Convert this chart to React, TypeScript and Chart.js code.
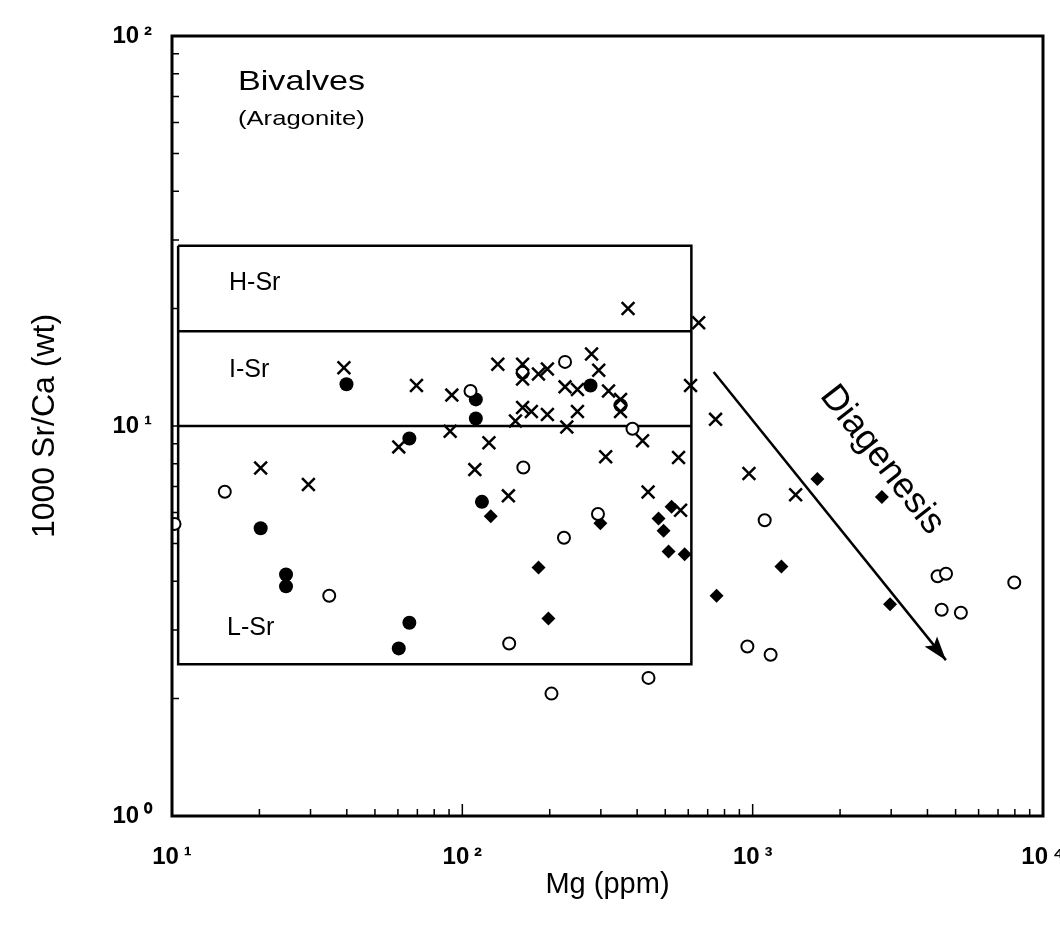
import React, { useEffect, useRef } from 'react';
import { Chart, registerables } from 'chart.js';

Chart.register(...registerables);

// ---- data (Mg ppm, 1000 Sr/Ca) ----
const crossMg = [39.1, 69.5, 92.0, 132.5, 161.3, 161.3, 182.9, 196.3, 225.8, 249.2, 278.7, 295, 318.8, 350.7, 350.7, 611, 372.2, 651.6, 161.3, 172.9, 196.3, 249.2, 152.4, 229, 90.8, 123.5, 60.4, 311.7, 417.6, 555.5, 20.2, 29.5, 110.4, 144.1, 436.3, 564.5, 745, 971, 1406];
const crossSr = [14.1, 12.7, 12.0, 14.4, 14.4, 13.2, 13.6, 14.0, 12.6, 12.4, 15.3, 13.9, 12.3, 11.7, 10.9, 12.7, 20.0, 18.4, 11.15, 10.9, 10.7, 10.9, 10.3, 9.94, 9.69, 9.06, 8.84, 8.34, 9.17, 8.30, 7.80, 7.08, 7.73, 6.62, 6.77, 6.08, 10.4, 7.55, 6.66];

const openMg = [10.2, 15.2, 34.8, 106.7, 161.3, 225.8, 350.7, 385.5, 162.2, 293.2, 223.9, 145, 437.7, 202.8, 1100, 959, 1153, 4335, 4634, 4477, 5214, 7962];
const openSr = [5.61, 6.78, 3.67, 12.3, 13.7, 14.6, 11.3, 9.84, 7.83, 5.95, 5.17, 2.77, 2.26, 2.06, 5.73, 2.72, 2.59, 4.12, 4.18, 3.38, 3.32, 3.97];

const filledMg = [39.9, 111.3, 111.3, 65.7, 276.4, 116.8, 20.2, 24.7, 24.7, 65.7, 60.4];
const filledSr = [12.8, 11.7, 10.45, 9.29, 12.7, 6.39, 5.47, 4.16, 3.88, 3.13, 2.69];

const diamondMg = [125.3, 298.9, 183, 198, 474, 525.7, 493.3, 513.3, 583, 1671, 2786, 1256, 751, 2974];
const diamondSr = [5.87, 5.63, 4.34, 3.21, 5.79, 6.21, 5.39, 4.77, 4.69, 7.31, 6.58, 4.36, 3.67, 3.49];

// Sr fields (box) and diagenesis trend
const boxMg = [10.5, 615];
const boxSr = [2.45, 10, 17.5, 29]; // bottom, L/I, I/H, top
const arrowMg = [734, 4630];
const arrowSr = [13.75, 2.51];

// axes
const xTickValues = [10, 100, 1000, 10000];
const xTickLabels = ['10\u2009\u00B9', '10\u2009\u00B2', '10\u2009\u00B3', '10\u2009\u2074'];
const yTickValues = [1, 10, 100];
const yTickLabels = ['10\u2009\u2070', '10\u2009\u00B9', '10\u2009\u00B2'];

const FONT = '"Liberation Sans", Arial, Helvetica, sans-serif';

const pts = (xs: number[], ys: number[]) => xs.map((x, i) => ({ x, y: ys[i] }));

function stretchedText(ctx: any, text: string, x: number, y: number, size: number, sx: number) {
  ctx.save();
  ctx.translate(x, y);
  ctx.scale(sx, 1);
  ctx.font = `${size}px ${FONT}`;
  ctx.fillText(text, 0, 0);
  ctx.restore();
}

const framePlugin = {
  id: 'frameAndNotes',
  afterDatasetsDraw(chart: any) {
    const { ctx, chartArea: a } = chart;
    const xs = chart.scales.x;
    const ys = chart.scales.y;
    ctx.save();
    // frame
    ctx.strokeStyle = '#000';
    ctx.lineWidth = 3;
    ctx.strokeRect(a.left, a.top, a.right - a.left, a.bottom - a.top);
    // inward ticks
    ctx.lineWidth = 1.5;
    ctx.beginPath();
    [10, 100, 1000].forEach((d) => {
      for (let m = 1; m <= 9; m++) {
        const px = xs.getPixelForValue(d * m);
        const len = m === 1 ? 12 : 7;
        ctx.moveTo(px, a.bottom);
        ctx.lineTo(px, a.bottom - len);
      }
    });
    [1, 10].forEach((d) => {
      for (let m = 1; m <= 9; m++) {
        const py = ys.getPixelForValue(d * m);
        const len = m === 1 ? 12 : 7;
        ctx.moveTo(a.left, py);
        ctx.lineTo(a.left + len, py);
      }
    });
    ctx.stroke();

    // arrow head
    const x0 = xs.getPixelForValue(arrowMg[0]);
    const y0 = ys.getPixelForValue(arrowSr[0]);
    const x1 = xs.getPixelForValue(arrowMg[1]);
    const y1 = ys.getPixelForValue(arrowSr[1]);
    const ang = Math.atan2(y1 - y0, x1 - x0);
    const hl = 24, hw = 8;
    ctx.fillStyle = '#000';
    ctx.beginPath();
    ctx.moveTo(x1, y1);
    ctx.lineTo(x1 - hl * Math.cos(ang) + hw * Math.sin(ang), y1 - hl * Math.sin(ang) - hw * Math.cos(ang));
    ctx.lineTo(x1 - hl * 0.8 * Math.cos(ang), y1 - hl * 0.8 * Math.sin(ang));
    ctx.lineTo(x1 - hl * Math.cos(ang) - hw * Math.sin(ang), y1 - hl * Math.sin(ang) + hw * Math.cos(ang));
    ctx.closePath();
    ctx.fill();

    // texts
    ctx.fillStyle = '#000';
    ctx.textBaseline = 'alphabetic';
    ctx.textAlign = 'left';
    stretchedText(ctx, 'Bivalves', a.left + 66, a.top + 54, 28, 1.22);
    stretchedText(ctx, '(Aragonite)', a.left + 66, a.top + 89, 21, 1.22);
    ctx.font = `25px ${FONT}`;
    ctx.fillText('H-Sr', a.left + 57, a.top + 254);
    ctx.fillText('I-Sr', a.left + 57, a.top + 341);
    ctx.fillText('L-Sr', a.left + 55, a.top + 599);

    // Diagenesis rotated
    ctx.save();
    ctx.translate(a.left + 710, a.top + 424);
    ctx.rotate((52 * Math.PI) / 180);
    ctx.textAlign = 'center';
    ctx.textBaseline = 'middle';
    ctx.font = `36px ${FONT}`;
    ctx.fillText('Diagenesis', 0, 0);
    ctx.restore();

    ctx.restore();
  },
};

export default function App() {
  const ref = useRef<HTMLCanvasElement | null>(null);
  useEffect(() => {
    document.body.style.margin = '0';
    if (!ref.current) return;
    const boxTop = boxSr[3];
    const boxBottom = boxSr[0];
    const chart = new Chart(ref.current, {
      type: 'scatter',
      data: {
        datasets: [
          {
            label: 'Crosses',
            data: pts(crossMg, crossSr),
            pointStyle: 'crossRot',
            pointRadius: 9,
            borderWidth: 2.5,
            borderColor: '#000',
            backgroundColor: '#000',
          },
          {
            label: 'Open circles',
            data: pts(openMg, openSr),
            pointStyle: 'circle',
            pointRadius: 6,
            borderWidth: 2,
            borderColor: '#000',
            backgroundColor: '#fff',
          },
          {
            label: 'Filled circles',
            data: pts(filledMg, filledSr),
            pointStyle: 'circle',
            pointRadius: 7,
            borderWidth: 0,
            borderColor: '#000',
            backgroundColor: '#000',
          },
          {
            label: 'Diamonds',
            data: pts(diamondMg, diamondSr),
            pointStyle: 'rectRot',
            pointRadius: 7,
            borderWidth: 0,
            borderColor: '#000',
            backgroundColor: '#000',
          },
          {
            label: 'Sr fields',
            data: [
              { x: boxMg[0], y: boxTop },
              { x: boxMg[1], y: boxTop },
              { x: boxMg[1], y: boxBottom },
              { x: boxMg[0], y: boxBottom },
              { x: boxMg[0], y: boxTop },
            ],
            showLine: true,
            pointRadius: 0,
            borderWidth: 2.5,
            borderColor: '#000',
          },
          {
            label: 'H/I',
            data: [
              { x: boxMg[0], y: boxSr[2] },
              { x: boxMg[1], y: boxSr[2] },
            ],
            showLine: true,
            pointRadius: 0,
            borderWidth: 2.5,
            borderColor: '#000',
          },
          {
            label: 'I/L',
            data: [
              { x: boxMg[0], y: boxSr[1] },
              { x: boxMg[1], y: boxSr[1] },
            ],
            showLine: true,
            pointRadius: 0,
            borderWidth: 2.5,
            borderColor: '#000',
          },
          {
            label: 'Diagenesis',
            data: pts(arrowMg, arrowSr),
            showLine: true,
            pointRadius: 0,
            borderWidth: 2.5,
            borderColor: '#000',
          },
        ],
      },
      options: {
        animation: false,
        responsive: false,
        devicePixelRatio: 1,
        layout: { padding: { top: 36, right: 17, left: 0, bottom: 0 } },
        plugins: { legend: { display: false }, tooltip: { enabled: false } },
        scales: {
          x: {
            type: 'logarithmic',
            min: 10,
            max: 10000,
            grid: { display: false, drawTicks: false },
            border: { display: false },
            afterBuildTicks: (s: any) => {
              s.ticks = xTickValues.map((v) => ({ value: v, major: true }));
            },
            ticks: {
              autoSkip: false,
              maxRotation: 0,
              padding: 27,
              color: '#000',
              font: { family: FONT, size: 24, weight: 'bold' },
              callback: (v: any) => {
                const i = xTickValues.indexOf(Number(v));
                return i >= 0 ? xTickLabels[i] : '';
              },
            },
            title: {
              display: true,
              text: 'Mg (ppm)',
              color: '#000',
              font: { family: FONT, size: 29 },
              padding: { top: 0, bottom: 23 },
            },
            afterFit: (s: any) => {
              s.height = 109;
              s.paddingLeft = 0;
              s.paddingRight = 0;
            },
          },
          y: {
            type: 'logarithmic',
            min: 1,
            max: 100,
            grid: { display: false, drawTicks: false },
            border: { display: false },
            afterBuildTicks: (s: any) => {
              s.ticks = yTickValues.map((v) => ({ value: v, major: true }));
            },
            ticks: {
              autoSkip: false,
              padding: 20,
              color: '#000',
              font: { family: FONT, size: 24, weight: 'bold' },
              callback: (v: any) => {
                const i = yTickValues.indexOf(Number(v));
                return i >= 0 ? yTickLabels[i] : '';
              },
            },
            title: {
              display: true,
              text: '1000 Sr/Ca (wt)',
              color: '#000',
              font: { family: FONT, size: 32 },
              padding: { top: 26, bottom: 0 },
            },
            afterFit: (s: any) => {
              s.width = 172;
              s.paddingTop = 0;
              s.paddingBottom = 0;
            },
          },
        },
      },
      plugins: [framePlugin],
    } as any);
    return () => chart.destroy();
  }, []);

  return (
    <div style={{ width: 1060, height: 925 }}>
      <canvas ref={ref} width={1060} height={925} style={{ display: 'block' }} />
    </div>
  );
}
